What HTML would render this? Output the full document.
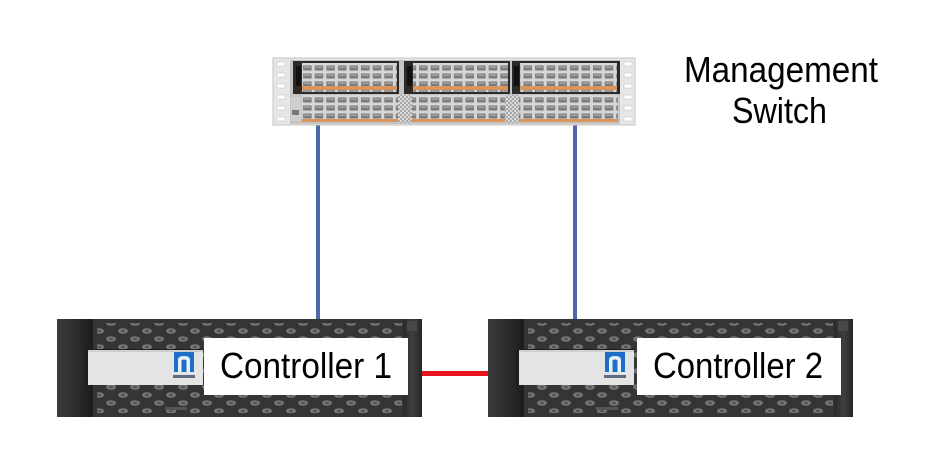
<!DOCTYPE html>
<html>
<head>
<meta charset="utf-8">
<style>
html,body{margin:0;padding:0;background:#fff;}
svg{display:block;}
text{font-family:"Liberation Sans",sans-serif;fill:#000;}
</style>
</head>
<body>
<svg width="947" height="462" viewBox="0 0 947 462" xmlns="http://www.w3.org/2000/svg">
<defs>
  <pattern id="port" x="0" y="0" width="11.6" height="8" patternUnits="userSpaceOnUse">
    <rect width="11.6" height="8" fill="#d6d6d6"/>
    <rect x="1.5" y="1.5" width="8.5" height="5" fill="#7a7a7a"/>
    <rect x="2.5" y="2.5" width="6.5" height="1.5" fill="#a4a4a4"/>
  </pattern>
  <pattern id="fan" x="0" y="0" width="4" height="4" patternUnits="userSpaceOnUse">
    <rect width="4" height="4" fill="#a8a8a8"/>
    <rect width="2" height="2" fill="#d8d8d8"/>
    <rect x="2" y="2" width="2" height="2" fill="#d8d8d8"/>
  </pattern>
  <pattern id="hex" x="0" y="0" width="24" height="16" patternUnits="userSpaceOnUse">
    <ellipse cx="6" cy="4" rx="5" ry="2.8" fill="#767676"/>
    <ellipse cx="6" cy="4" rx="2.2" ry="1.1" fill="#555"/>
    <ellipse cx="18" cy="12" rx="5" ry="2.8" fill="#767676"/>
    <ellipse cx="18" cy="12" rx="2.2" ry="1.1" fill="#555"/>
  </pattern>
  <linearGradient id="leftband" x1="0" x2="1" y1="0" y2="0">
    <stop offset="0" stop-color="#3c3c3c"/>
    <stop offset="0.6" stop-color="#2a2a2a"/>
    <stop offset="1" stop-color="#1c1c1c"/>
  </linearGradient>
  <linearGradient id="rightband" x1="0" x2="1" y1="0" y2="0">
    <stop offset="0" stop-color="#2a2a2a"/>
    <stop offset="0.5" stop-color="#3e3e3e"/>
    <stop offset="1" stop-color="#262626"/>
  </linearGradient>

  <g id="ctrl">
    <rect x="0" y="0" width="365" height="98" fill="#353535"/>
    <rect x="0" y="0" width="36" height="98" fill="url(#leftband)"/>
    <rect x="40" y="4" width="305" height="90" fill="url(#hex)"/>
    <rect x="346" y="0" width="19" height="98" fill="url(#rightband)"/>
    <rect x="350" y="2" width="10" height="10" fill="#484848"/>
    <!-- light panel -->
    <rect x="28" y="30" width="118" height="36" fill="#1e1e1e"/>
    <rect x="31" y="31" width="115" height="35" fill="#e4e4e4"/>
    <rect x="31" y="31" width="115" height="2" fill="#cfcfcf"/>
    <!-- logo -->
    <rect x="117" y="33" width="20" height="20" fill="#1d6fc6"/>
    <path d="M121 53 V41 Q121 37 127 37 Q133 37 133 41 V53 H129.5 V42 Q129.5 40.5 127 40.5 Q124.5 40.5 124.5 42 V53 Z" fill="#ffffff" opacity="0.9"/>
    <rect x="116" y="56" width="22" height="3" fill="#5a6a80"/>
    <rect x="108" y="88" width="22" height="3" fill="#555"/>
  </g>
</defs>

<!-- connectors -->
<rect x="316" y="124" width="4" height="198" fill="#4a6ba8"/>
<rect x="573" y="124" width="4" height="198" fill="#4a6ba8"/>

<!-- switch -->
<g>
  <rect x="273" y="58" width="362" height="67" fill="#e6e6e6" stroke="#c4c4c4" stroke-width="1"/>
  <g fill="#ffffff" stroke="#c0c0c0" stroke-width="0.5">
    <rect x="277" y="62" width="8" height="4"/><rect x="277" y="73" width="8" height="4"/>
    <rect x="277" y="84" width="8" height="4"/><rect x="277" y="95" width="8" height="4"/>
    <rect x="277" y="106" width="8" height="4"/><rect x="277" y="117" width="8" height="4"/>
    <rect x="624" y="62" width="8" height="4"/><rect x="624" y="73" width="8" height="4"/>
    <rect x="624" y="84" width="8" height="4"/><rect x="624" y="95" width="8" height="4"/>
    <rect x="624" y="106" width="8" height="4"/><rect x="624" y="117" width="8" height="4"/>
  </g>
  <rect x="290" y="60" width="330" height="64" fill="#c4c4c4"/>
  <!-- top modules -->
  <rect x="293" y="61" width="106" height="33" fill="#2a2a2a"/>
  <rect x="404" y="61" width="106" height="33" fill="#2a2a2a"/>
  <rect x="512" y="61" width="108" height="33" fill="#2a2a2a"/>
  <rect x="302" y="63" width="95" height="29" fill="url(#port)"/>
  <rect x="296" y="66" width="5" height="20" fill="#111"/>
  <rect x="302" y="86" width="95" height="4" fill="#d8955c"/>
  <rect x="413" y="63" width="95" height="29" fill="url(#port)"/>
  <rect x="407" y="66" width="5" height="20" fill="#111"/>
  <rect x="413" y="86" width="95" height="4" fill="#d8955c"/>
  <rect x="520" y="63" width="97" height="29" fill="url(#port)"/>
  <rect x="514" y="66" width="5" height="20" fill="#111"/>
  <rect x="520" y="86" width="97" height="4" fill="#d8955c"/>
  <!-- bottom blocks -->
  <rect x="302" y="95" width="96" height="27" fill="url(#port)"/>
  <rect x="302" y="119" width="96" height="3" fill="#d8955c"/>
  <rect x="398" y="95" width="14" height="28" fill="url(#fan)"/>
  <rect x="412" y="95" width="93" height="27" fill="url(#port)"/>
  <rect x="412" y="119" width="93" height="3" fill="#d8955c"/>
  <rect x="505" y="95" width="14" height="28" fill="url(#fan)"/>
  <rect x="519" y="95" width="99" height="27" fill="url(#port)"/>
  <rect x="519" y="119" width="99" height="3" fill="#d8955c"/>
  <rect x="291" y="97" width="10" height="24" fill="#cfcfcf"/>
  <rect x="292" y="110" width="7" height="5" fill="#777"/>
</g>

<!-- Management Switch label -->
<text x="684" y="82" font-size="36" textLength="194" lengthAdjust="spacingAndGlyphs">Management</text>
<text x="732" y="123" font-size="36" textLength="95" lengthAdjust="spacingAndGlyphs">Switch</text>

<!-- red link -->
<rect x="408" y="371" width="82" height="5" fill="#e8141c"/>

<!-- controllers -->
<use href="#ctrl" x="57" y="319"/>
<use href="#ctrl" x="488" y="319"/>

<!-- labels -->
<rect x="204" y="338" width="204" height="57" fill="#ffffff"/>
<text x="220" y="378" font-size="36" textLength="172" lengthAdjust="spacingAndGlyphs">Controller 1</text>
<rect x="637" y="338" width="204" height="57" fill="#ffffff"/>
<text x="653" y="378" font-size="36" textLength="170" lengthAdjust="spacingAndGlyphs">Controller 2</text>
</svg>
</body>
</html>
